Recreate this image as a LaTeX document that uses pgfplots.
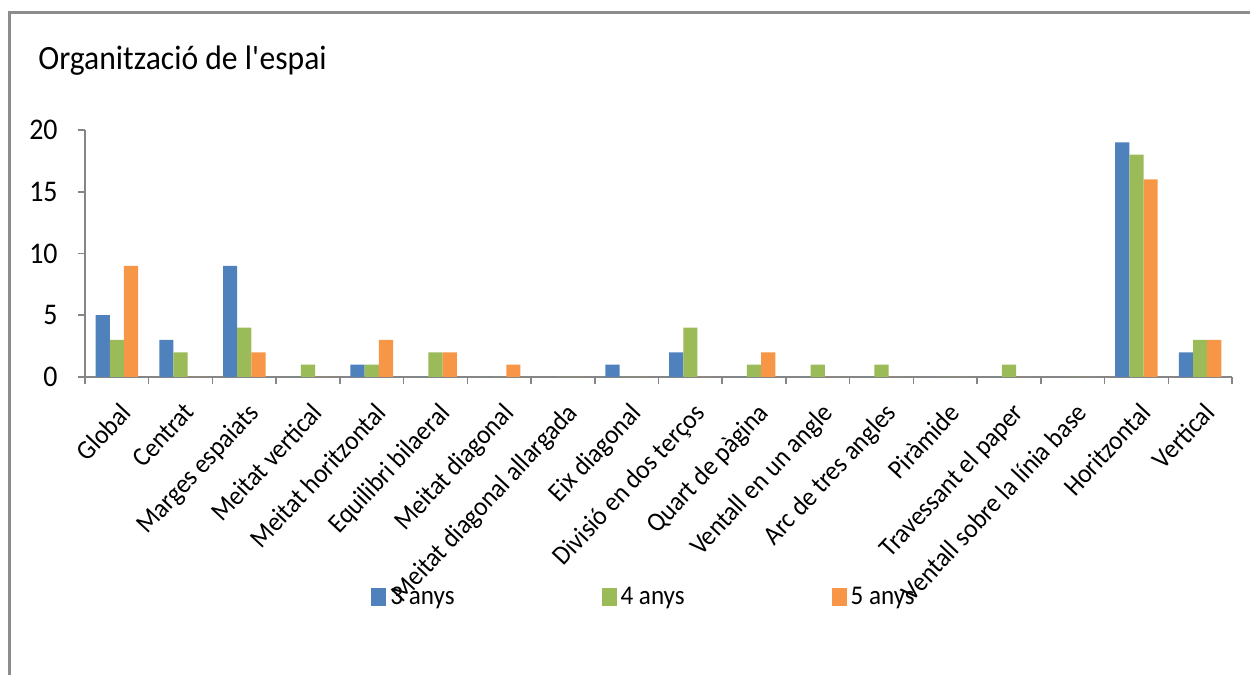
\documentclass[border=0pt]{standalone}
\usepackage{fontspec}
\setmainfont{Carlito}[FakeStretch=0.93]
\usepackage{pgfplots}
\pgfplotsset{compat=1.18}

\definecolor{xlblue}{HTML}{4F81BD}
\definecolor{xlgreen}{HTML}{9BBB59}
\definecolor{xlorange}{HTML}{F79646}
\definecolor{axgray}{HTML}{868686}
\definecolor{framegray}{HTML}{8C8C8C}

\pgfplotsset{sqlegend/.style={legend image code/.code={\fill[##1] (0pt,-4.5pt) rectangle (7.5pt,4.5pt);}}}

\begin{document}
\begin{tikzpicture}
\path[use as bounding box] (0,0) rectangle (625pt,337.5pt);
\draw[framegray, line width=1.5pt] (4.5pt,0pt) -- (4.5pt,331.25pt) -- (625pt,331.25pt);
\node[anchor=base west, font=\fontsize{17}{20}\selectfont, inner sep=0pt] at (19pt,302.5pt) {Organització de l\textquotesingle espai};

\begin{axis}[
  at={(42.5pt,149pt)}, anchor=south west,
  scale only axis, width=573.5pt, height=123.5pt,
  xmin=-0.5, xmax=17.5, ymin=0, ymax=20,
  axis lines*=left,
  axis line style={axgray, line width=0.75pt},
  x axis line style={line width=1pt},
  tick align=outside, major tick length=3.5pt,
  tick style={axgray, line width=0.75pt},
  /pgf/number format/assume math mode=true,
  ytick={0,5,...,20},
  yticklabel style={font=\fontsize{15}{17}\selectfont, inner sep=0pt, xshift=-10pt},
  xtick={-0.5,0.5,...,17.5},
  xticklabels={Global,Centrat,Marges espaiats,Meitat vertical,Meitat horitzontal,Equilibri bilaeral,Meitat diagonal,Meitat diagonal allargada,Eix diagonal,Divisió en dos terços,Quart de pàgina,Ventall en un angle,Arc de tres angles,Piràmide,Travessant el paper,Ventall sobre la línia base,Horitzontal,Vertical,{}},
  xticklabel style={font=\fontsize{13.5}{15}\selectfont, inner sep=0pt, xshift=17pt, yshift=-8.5pt, rotate=47, anchor=north east},
  ybar=0pt, bar width=7.1pt,
  legend columns=3,
  legend style={at={(0.2494,-0.891)}, anchor=west, draw=none, fill=none, inner sep=0pt,
    font=\fontsize{13.5}{16}\selectfont,
    /tikz/every even column/.append style={column sep=71.5pt}},
]
\addplot[fill=xlblue, draw=none, sqlegend] coordinates {
  (0,5)(1,3)(2,9)(3,0)(4,1)(5,0)(6,0)(7,0)(8,1)(9,2)(10,0)(11,0)(12,0)(13,0)(14,0)(15,0)(16,19)(17,2)};
\addlegendentry{3 anys}
\addplot[fill=xlgreen, draw=none, sqlegend] coordinates {
  (0,3)(1,2)(2,4)(3,1)(4,1)(5,2)(6,0)(7,0)(8,0)(9,4)(10,1)(11,1)(12,1)(13,0)(14,1)(15,0)(16,18)(17,3)};
\addlegendentry{4 anys}
\addplot[fill=xlorange, draw=none, sqlegend] coordinates {
  (0,9)(1,0)(2,2)(3,0)(4,3)(5,2)(6,1)(7,0)(8,0)(9,0)(10,2)(11,0)(12,0)(13,0)(14,0)(15,0)(16,16)(17,3)};
\addlegendentry{5 anys}
\end{axis}
\end{tikzpicture}
\end{document}
